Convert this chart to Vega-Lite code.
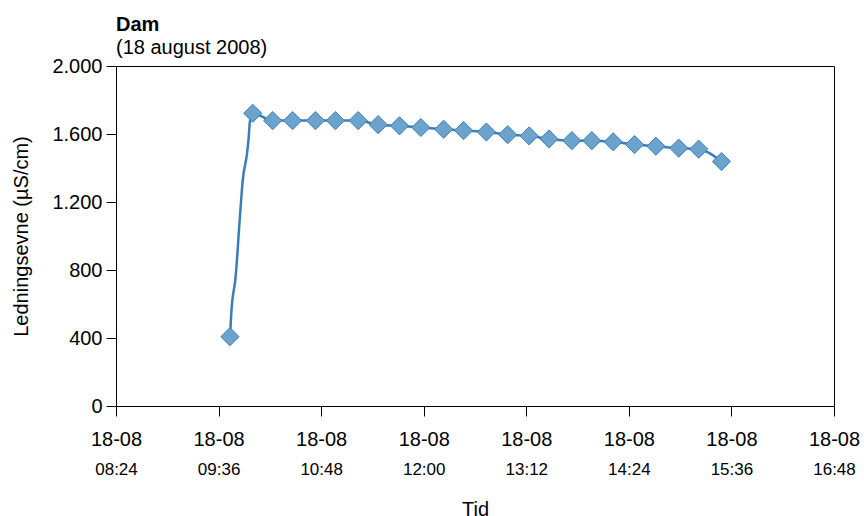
{
  "$schema": "https://vega.github.io/schema/vega-lite/v6.json",
  "width": 718,
  "height": 340,
  "autosize": {"type": "none"},
  "padding": {"left": 116, "top": 66, "right": 30, "bottom": 110},
  "background": "white",
  "title": {
    "text": "Dam",
    "subtitle": "(18 august 2008)",
    "anchor": "start",
    "frame": "group",
    "fontSize": 20,
    "fontWeight": "bold",
    "subtitleFontSize": 20,
    "subtitleColor": "black",
    "color": "black",
    "offset": -2,
    "subtitlePadding": 3
  },
  "config": {
    "font": "Liberation Sans",
    "view": {"stroke": "black", "strokeWidth": 1},
    "axis": {
      "grid": false,
      "domainColor": "black",
      "tickColor": "black",
      "labelColor": "black",
      "titleColor": "black",
      "titleFontWeight": "normal"
    }
  },
  "data": {
    "values": [
      {"time": "2008-08-18T09:44:00", "value": 408, "marked": true},
      {"time": "2008-08-18T09:45:00", "value": 557, "marked": false},
      {"time": "2008-08-18T09:48:00", "value": 762, "marked": false},
      {"time": "2008-08-18T09:51:00", "value": 1115, "marked": false},
      {"time": "2008-08-18T09:53:00", "value": 1330, "marked": false},
      {"time": "2008-08-18T09:56:00", "value": 1487, "marked": false},
      {"time": "2008-08-18T09:57:00", "value": 1565, "marked": false},
      {"time": "2008-08-18T09:58:00", "value": 1673, "marked": false},
      {"time": "2008-08-18T10:00:00", "value": 1722, "marked": true},
      {"time": "2008-08-18T10:14:00", "value": 1679, "marked": true},
      {"time": "2008-08-18T10:28:00", "value": 1679, "marked": true},
      {"time": "2008-08-18T10:44:00", "value": 1679, "marked": true},
      {"time": "2008-08-18T10:58:00", "value": 1679, "marked": true},
      {"time": "2008-08-18T11:14:00", "value": 1679, "marked": true},
      {"time": "2008-08-18T11:28:00", "value": 1655, "marked": true},
      {"time": "2008-08-18T11:43:00", "value": 1648, "marked": true},
      {"time": "2008-08-18T11:58:00", "value": 1638, "marked": true},
      {"time": "2008-08-18T12:14:00", "value": 1628, "marked": true},
      {"time": "2008-08-18T12:28:00", "value": 1620, "marked": true},
      {"time": "2008-08-18T12:44:00", "value": 1612, "marked": true},
      {"time": "2008-08-18T12:59:00", "value": 1596, "marked": true},
      {"time": "2008-08-18T13:14:00", "value": 1589, "marked": true},
      {"time": "2008-08-18T13:28:00", "value": 1571, "marked": true},
      {"time": "2008-08-18T13:44:00", "value": 1561, "marked": true},
      {"time": "2008-08-18T13:58:00", "value": 1561, "marked": true},
      {"time": "2008-08-18T14:13:00", "value": 1554, "marked": true},
      {"time": "2008-08-18T14:28:00", "value": 1538, "marked": true},
      {"time": "2008-08-18T14:43:00", "value": 1528, "marked": true},
      {"time": "2008-08-18T14:59:00", "value": 1517, "marked": true},
      {"time": "2008-08-18T15:13:00", "value": 1511, "marked": true},
      {"time": "2008-08-18T15:29:00", "value": 1438, "marked": true}
    ]
  },
  "encoding": {
    "y": {
      "field": "value",
      "type": "quantitative",
      "scale": {"domain": [0, 2000], "nice": false},
      "axis": {
        "values": [0, 400, 800, 1200, 1600, 2000],
        "labelExpr": "replace(format(datum.value, ','), ',', '.')",
        "labelFontSize": 20,
        "tickSize": 10,
        "labelPadding": 4,
        "title": "Ledningsevne (µS/cm)",
        "titleFontSize": 20,
        "titlePadding": 20
      }
    }
  },
  "layer": [
    {
      "mark": {"type": "line", "color": "#3a7dbb", "strokeWidth": 2.5, "interpolate": "monotone"},
      "encoding": {
        "x": {
          "field": "time",
          "type": "temporal",
          "scale": {
            "domain": [
              {"year": 2008, "month": 8, "date": 18, "hours": 8, "minutes": 24},
              {"year": 2008, "month": 8, "date": 18, "hours": 16, "minutes": 48}
            ],
            "nice": false
          },
          "axis": {
            "orient": "bottom",
            "values": [
              {"year": 2008, "month": 8, "date": 18, "hours": 8, "minutes": 24},
              {"year": 2008, "month": 8, "date": 18, "hours": 9, "minutes": 36},
              {"year": 2008, "month": 8, "date": 18, "hours": 10, "minutes": 48},
              {"year": 2008, "month": 8, "date": 18, "hours": 12, "minutes": 0},
              {"year": 2008, "month": 8, "date": 18, "hours": 13, "minutes": 12},
              {"year": 2008, "month": 8, "date": 18, "hours": 14, "minutes": 24},
              {"year": 2008, "month": 8, "date": 18, "hours": 15, "minutes": 36},
              {"year": 2008, "month": 8, "date": 18, "hours": 16, "minutes": 48}
            ],
            "labelExpr": "timeFormat(datum.value, '%d-%m')",
            "labelFontSize": 20,
            "tickSize": 10,
            "labelPadding": 13,
            "labelFlush": false,
            "labelOverlap": false,
            "title": null
          }
        }
      }
    },
    {
      "transform": [{"filter": "datum.marked"}],
      "mark": {"type": "point", "shape": "diamond", "filled": true, "size": 330, "fill": "#6ca3cc", "stroke": "#3f7fb8", "strokeWidth": 1, "opacity": 1},
      "encoding": {
        "x": {
          "field": "time",
          "type": "temporal",
          "axis": {
            "orient": "bottom",
            "values": [
              {"year": 2008, "month": 8, "date": 18, "hours": 8, "minutes": 24},
              {"year": 2008, "month": 8, "date": 18, "hours": 9, "minutes": 36},
              {"year": 2008, "month": 8, "date": 18, "hours": 10, "minutes": 48},
              {"year": 2008, "month": 8, "date": 18, "hours": 12, "minutes": 0},
              {"year": 2008, "month": 8, "date": 18, "hours": 13, "minutes": 12},
              {"year": 2008, "month": 8, "date": 18, "hours": 14, "minutes": 24},
              {"year": 2008, "month": 8, "date": 18, "hours": 15, "minutes": 36},
              {"year": 2008, "month": 8, "date": 18, "hours": 16, "minutes": 48}
            ],
            "labelExpr": "timeFormat(datum.value, '%H:%M')",
            "labelFontSize": 17,
            "ticks": false,
            "tickSize": 0,
            "domain": false,
            "labelPadding": 55,
            "labelFlush": false,
            "labelOverlap": false,
            "title": "Tid",
            "titleFontSize": 20,
            "titlePadding": 22
          }
        }
      }
    }
  ],
  "resolve": {"axis": {"x": "independent"}}
}
